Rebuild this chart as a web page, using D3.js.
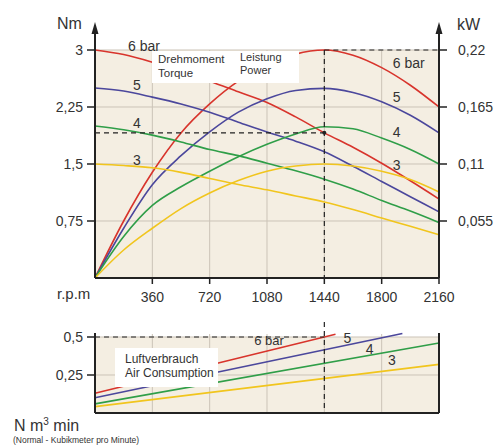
<!DOCTYPE html>
<html>
<head>
<meta charset="utf-8">
<script src="https://cdn.jsdelivr.net/npm/d3@7"></script>
<style>
  body { margin: 0; background: #fff; }
  svg { display: block; font-family: "Liberation Sans", Arial, sans-serif; }
</style>
</head>
<body>
<svg id="chart" width="494" height="445"></svg>
<script>
// rpm grid shared by the torque and power curves
const rpm = [0, 180, 360, 540, 720, 900, 1080, 1260, 1440, 1620, 1800, 1980, 2160];

// torque (Nm), one per supply pressure
const torque6 = [3.0, 2.94, 2.84, 2.72, 2.59, 2.45, 2.31, 2.12, 1.91, 1.72, 1.51, 1.28, 1.04];
const torque5 = [2.5, 2.46, 2.38, 2.29, 2.18, 2.05, 1.92, 1.8, 1.66, 1.47, 1.27, 1.07, 0.87];
const torque4 = [2.0, 1.95, 1.88, 1.79, 1.69, 1.61, 1.51, 1.41, 1.30, 1.17, 1.02, 0.88, 0.73];
const torque3 = [1.5, 1.48, 1.45, 1.39, 1.31, 1.23, 1.16, 1.08, 1.0, 0.9, 0.79, 0.68, 0.57];

// power (kW)
const power6 = [0, 0.055, 0.102, 0.14, 0.168, 0.19, 0.205, 0.216, 0.22, 0.215, 0.203, 0.186, 0.165];
const power5 = [0, 0.048, 0.09, 0.118, 0.141, 0.16, 0.173, 0.181, 0.183, 0.179, 0.17, 0.157, 0.14];
const power4 = [0, 0.04, 0.07, 0.088, 0.103, 0.117, 0.129, 0.139, 0.146, 0.144, 0.135, 0.124, 0.11];
const power3 = [0, 0.027, 0.048, 0.067, 0.082, 0.094, 0.103, 0.108, 0.11, 0.108, 0.103, 0.095, 0.083];

// air consumption (N m3/min), straight lines
const airRpm6 = [0, 1510], air6 = [0.13, 0.518];
const airRpm5 = [0, 1930], air5 = [0.10, 0.523];
const airRpm4 = [0, 2160], air4 = [0.06, 0.46];
const airRpm3 = [0, 2160], air3 = [0.042, 0.32];

const rpmTicks = [360, 720, 1080, 1440, 1800, 2160];
const nmTicks = [0.75, 1.5, 2.25, 3];
const nmLabels = ["0,75", "1,5", "2,25", "3"];
const kwTicks = [0.055, 0.11, 0.165, 0.22];
const kwLabels = ["0,055", "0,11", "0,165", "0,22"];
const airTicks = [0.25, 0.5];
const airLabels = ["0,25", "0,5"];

const colors = { 6: "#d8342c", 5: "#4b479c", 4: "#2f9e48", 3: "#f1c51d" };
const bg = "#f4eee2";
const gridCol = "#cbc3b7";
const ink = "#333";

const svg = d3.select("#chart");

const x = d3.scaleLinear().domain([0, 2160]).range([95, 439]);
const yNm = d3.scaleLinear().domain([0, 3]).range([278, 50]);
const yKw = d3.scaleLinear().domain([0, 0.22]).range([278, 50]);
const yAir = d3.scaleLinear().domain([0, 0.5]).range([413, 337]);

// ---------- top chart ----------
svg.append("rect")
  .attr("x", x(0)).attr("y", yNm(3))
  .attr("width", x(2160) - x(0)).attr("height", yNm(0) - yNm(3))
  .attr("fill", bg);

const gridTop = svg.append("g").attr("stroke", gridCol).attr("stroke-width", 1);
gridTop.selectAll("line.v").data(rpmTicks.slice(0, -1)).enter().append("line")
  .attr("x1", d => x(d)).attr("x2", d => x(d))
  .attr("y1", yNm(3)).attr("y2", yNm(0));
gridTop.selectAll("line.h").data(nmTicks).enter().append("line")
  .attr("x1", x(0)).attr("x2", x(2160))
  .attr("y1", d => yNm(d)).attr("y2", d => yNm(d));

const line = (ys, yScale) => d3.line()
  .x((d, i) => x(rpm[i]))
  .y(d => yScale(d))
  .curve(d3.curveMonotoneX)(ys);

const curves = [
  [6, torque6, power6], [5, torque5, power5], [4, torque4, power4], [3, torque3, power3]
];
curves.forEach(([bar, t, p]) => {
  svg.append("path").attr("d", line(t, yNm))
    .attr("fill", "none").attr("stroke", colors[bar]).attr("stroke-width", 1.6);
  svg.append("path").attr("d", line(p, yKw))
    .attr("fill", "none").attr("stroke", colors[bar]).attr("stroke-width", 1.6);
});

// white legend box that hides the curves
svg.append("rect")
  .attr("x", 152).attr("y", 51).attr("width", 147).attr("height", 32)
  .attr("fill", "#fff");
svg.append("text").attr("x", 158).attr("y", 63).attr("font-size", 11.5).attr("fill", ink).text("Drehmoment");
svg.append("text").attr("x", 158).attr("y", 77).attr("font-size", 11.5).attr("fill", ink).text("Torque");
svg.append("text").attr("x", 240).attr("y", 61).attr("font-size", 11).attr("fill", ink).text("Leistung");
svg.append("text").attr("x", 240).attr("y", 74).attr("font-size", 11).attr("fill", ink).text("Power");

// operating point guides
const dash = svg.append("g").attr("stroke", "#222").attr("stroke-width", 1.2)
  .attr("stroke-dasharray", "5,4").attr("fill", "none");
dash.append("line").attr("x1", x(0)).attr("x2", x(1440))
  .attr("y1", yNm(torque6[8])).attr("y2", yNm(torque6[8]));
dash.append("line").attr("x1", x(1440)).attr("x2", x(2160))
  .attr("y1", yKw(0.22)).attr("y2", yKw(0.22));
dash.append("line").attr("x1", x(1440)).attr("x2", x(1440))
  .attr("y1", yNm(3)).attr("y2", yNm(0));
svg.append("circle").attr("cx", x(1440)).attr("cy", yNm(torque6[8])).attr("r", 2).attr("fill", "#222");

// series labels
const lblLeft = [["6 bar", 2.99], ["5", 2.47], ["4", 1.97], ["3", 1.49]];
svg.selectAll("text.ll").data(lblLeft).enter().append("text")
  .attr("x", (d, i) => i === 0 ? x(207) : x(238))
  .attr("y", d => yNm(d[1]))
  .attr("font-size", 14).attr("fill", ink).text(d => d[0]);
const lblRight = [["6 bar", 0.203], ["5", 0.17], ["4", 0.136], ["3", 0.104]];
svg.selectAll("text.lr").data(lblRight).enter().append("text")
  .attr("x", x(1870)).attr("y", d => yKw(d[1]))
  .attr("font-size", 14).attr("fill", ink).text(d => d[0]);

// axes
const axes = svg.append("g").attr("stroke", "#222").attr("stroke-width", 2);
axes.append("line").attr("x1", x(0)).attr("x2", x(2160)).attr("y1", yNm(0)).attr("y2", yNm(0));
axes.append("line").attr("x1", x(0)).attr("x2", x(0)).attr("y1", yNm(0)).attr("y2", 30);
axes.append("line").attr("x1", x(2160)).attr("x2", x(2160)).attr("y1", yNm(0)).attr("y2", 30);
[x(0), x(2160)].forEach(ax => {
  svg.append("path").attr("d", `M${ax - 3.5},34 L${ax},22 L${ax + 3.5},34 Z`).attr("fill", "#222");
});

// x ticks
svg.selectAll("line.xt").data(rpmTicks).enter().append("line")
  .attr("x1", d => x(d)).attr("x2", d => x(d))
  .attr("y1", yNm(0)).attr("y2", yNm(0) + 6)
  .attr("stroke", "#222").attr("stroke-width", 1.5);
svg.selectAll("text.xt").data(rpmTicks).enter().append("text")
  .attr("x", d => x(d)).attr("y", 302).attr("text-anchor", "middle")
  .attr("font-size", 14).attr("fill", ink).text(d => d);
svg.append("text").attr("x", 57).attr("y", 299).attr("font-size", 15).attr("fill", ink).text("r.p.m");

// left ticks
svg.selectAll("line.yt").data(nmTicks).enter().append("line")
  .attr("x1", x(0) - 8).attr("x2", x(0))
  .attr("y1", d => yNm(d)).attr("y2", d => yNm(d))
  .attr("stroke", "#222").attr("stroke-width", 1.5);
svg.selectAll("text.yt").data(nmTicks).enter().append("text")
  .attr("x", 83).attr("y", d => yNm(d) + 5).attr("text-anchor", "end")
  .attr("font-size", 14).attr("fill", ink).text((d, i) => nmLabels[i]);
svg.append("text").attr("x", 57).attr("y", 29).attr("font-size", 16).attr("fill", ink).text("Nm");

// right ticks
svg.selectAll("line.kt").data(kwTicks).enter().append("line")
  .attr("x1", x(2160)).attr("x2", x(2160) + 8)
  .attr("y1", d => yKw(d)).attr("y2", d => yKw(d))
  .attr("stroke", "#222").attr("stroke-width", 1.5);
svg.selectAll("text.kt").data(kwTicks).enter().append("text")
  .attr("x", 458).attr("y", d => yKw(d) + 5)
  .attr("font-size", 14).attr("fill", ink).text((d, i) => kwLabels[i]);
svg.append("text").attr("x", 457).attr("y", 30).attr("font-size", 16).attr("fill", ink).text("kW");

// ---------- bottom chart ----------
svg.append("rect")
  .attr("x", x(0)).attr("y", yAir(0.5))
  .attr("width", x(2160) - x(0)).attr("height", yAir(0) - yAir(0.5))
  .attr("fill", bg);
const gridBot = svg.append("g").attr("stroke", gridCol).attr("stroke-width", 1);
gridBot.selectAll("line.v").data(rpmTicks.slice(0, -1)).enter().append("line")
  .attr("x1", d => x(d)).attr("x2", d => x(d))
  .attr("y1", yAir(0.5) - 3).attr("y2", yAir(0));
gridBot.selectAll("line.h").data(airTicks).enter().append("line")
  .attr("x1", x(0)).attr("x2", x(2160))
  .attr("y1", d => yAir(d)).attr("y2", d => yAir(d));

[[6, airRpm6, air6], [5, airRpm5, air5], [4, airRpm4, air4], [3, airRpm3, air3]].forEach(([bar, r, a]) => {
  svg.append("path")
    .attr("d", d3.line().x((d, i) => x(r[i])).y(d => yAir(d))(a))
    .attr("fill", "none").attr("stroke", colors[bar]).attr("stroke-width", 1.6);
});

svg.append("rect").attr("x", 115).attr("y", 348).attr("width", 103).attr("height", 39).attr("fill", "#fff");
svg.append("text").attr("x", 125).attr("y", 363).attr("font-size", 12).attr("fill", ink).text("Luftverbrauch");
svg.append("text").attr("x", 125).attr("y", 377).attr("font-size", 12).attr("fill", ink).text("Air Consumption");

const dashB = svg.append("g").attr("stroke", "#222").attr("stroke-width", 1.2)
  .attr("stroke-dasharray", "5,4").attr("fill", "none");
dashB.append("line").attr("x1", x(0)).attr("x2", x(1440)).attr("y1", yAir(0.5)).attr("y2", yAir(0.5));
dashB.append("line").attr("x1", x(1440)).attr("x2", x(1440)).attr("y1", 322).attr("y2", yAir(0));

const lblAir = [["6 bar", 1000, 0.45], ["5", 1560, 0.46], ["4", 1700, 0.39], ["3", 1840, 0.315]];
svg.selectAll("text.la").data(lblAir).enter().append("text")
  .attr("x", d => x(d[1])).attr("y", d => yAir(d[2]))
  .attr("font-size", (d, i) => i === 0 ? 13 : 14).attr("fill", ink).text(d => d[0]);

const axesB = svg.append("g").attr("stroke", "#222").attr("stroke-width", 2);
axesB.append("line").attr("x1", x(0)).attr("x2", x(2160)).attr("y1", yAir(0)).attr("y2", yAir(0));
axesB.append("line").attr("x1", x(0)).attr("x2", x(0)).attr("y1", yAir(0)).attr("y2", 333);
axesB.append("line").attr("x1", x(2160)).attr("x2", x(2160)).attr("y1", yAir(0)).attr("y2", 333);

svg.selectAll("line.at").data(airTicks).enter().append("line")
  .attr("x1", x(0) - 8).attr("x2", x(0))
  .attr("y1", d => yAir(d)).attr("y2", d => yAir(d))
  .attr("stroke", "#222").attr("stroke-width", 1.5);
svg.selectAll("text.at").data(airTicks).enter().append("text")
  .attr("x", 83).attr("y", d => yAir(d) + 5).attr("text-anchor", "end")
  .attr("font-size", 14).attr("fill", ink).text((d, i) => airLabels[i]);

const unit = svg.append("text").attr("x", 14).attr("y", 431).attr("font-size", 16).attr("fill", ink);
unit.append("tspan").text("N m");
unit.append("tspan").attr("font-size", 10).attr("dy", -6).text("3");
unit.append("tspan").attr("dy", 6).text(" min");
svg.append("text").attr("x", 13).attr("y", 443).attr("font-size", 8.5).attr("fill", ink)
  .text("(Normal - Kubikmeter pro Minute)");
</script>
</body>
</html>
